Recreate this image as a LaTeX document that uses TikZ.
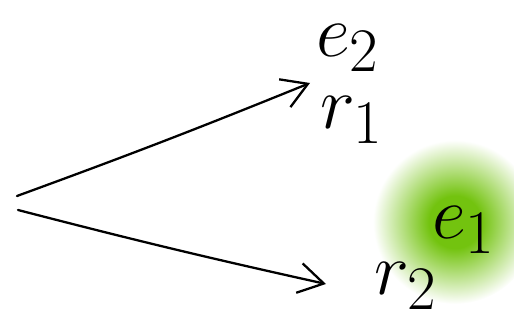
\documentclass[tikz,border=0pt]{standalone}
\usetikzlibrary{positioning,arrows.meta}
\definecolor{glowgreen}{RGB}{115,195,15}
\pgfdeclareradialshading{glow}{\pgfpoint{0bp}{0bp}}{%
    color(0bp)=(glowgreen); color(8bp)=(glowgreen);
    color(25bp)=(white); color(50bp)=(white)}

\begin{document}
\begin{tikzpicture}[x=0.02cm,y=-0.02cm,
    sketch/.style={line width=1.3pt,line cap=round,-{Straight Barb[length=5mm,width=6mm,line width=1.3pt]}},
    label/.style={inner sep=0pt,font=\Huge}]
    \useasboundingbox (0,0) rectangle (514,323);

    % Define arrow ends
    \coordinate (O1) at (17,196); % Upper start
    \coordinate (O2) at (18,210); % Lower start
    \coordinate (T1) at (310,83); % Upper tip
    \coordinate (T2) at (326,284); % Lower tip

    % Green glow behind e1
    \shade[shading=glow] (455,222) circle (82);

    % Draw arrows
    \draw[sketch] (O1) to[bend right=1] (T1);
    \draw[sketch] (O2) to[bend right=1] (T2);

    % Place labels
    \node[label] (e2) at (348,48) {\scalebox{1.7}{$e_2$}};
    \node[label] (r1) at (352,120) {\scalebox{1.7}{$r_1$}};
    \node[label] (e1) at (464,230) {\scalebox{1.7}{$e_1$}};
    \node[label] (r2) at (406,286) {\scalebox{1.7}{$r_2$}};

\end{tikzpicture}
\end{document}
